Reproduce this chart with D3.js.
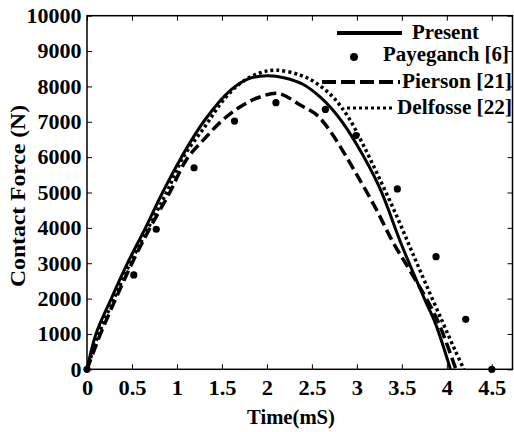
<!DOCTYPE html>
<html><head><meta charset="utf-8">
<script src="https://cdn.jsdelivr.net/npm/d3@7"></script>
<style>body{margin:0;background:#fff}svg{display:block}</style>
</head><body><svg id="c" width="514" height="432"></svg>
<script>
const xTicks=[0,0.5,1,1.5,2,2.5,3,3.5,4,4.5];
const xTickLabels=["0","0.5","1","1.5","2","2.5","3","3.5","4","4.5"];
const yTicks=[0,1000,2000,3000,4000,5000,6000,7000,8000,9000,10000];
const presentT=[0,0.1,0.27,0.45,0.65,0.84,1.05,1.31,1.6,1.8,2.0,2.2,2.4,2.6,2.8,3.0,3.25,3.5,3.75,3.88,4.04];
const presentF=[0,1000,2000,3000,4000,5000,6000,7050,7900,8220,8300,8240,8060,7680,7120,6350,5150,3500,2000,1250,0];
const piersonT=[0,0.15,0.32,0.5,0.7,0.92,1.11,1.31,1.5,1.7,1.9,2.13,2.37,2.55,2.7,2.85,3.0,3.2,3.4,3.6,3.885,4.1];
const piersonF=[0,1000,2000,3000,4000,5000,5950,6530,7030,7420,7680,7800,7475,7200,6750,6150,5500,4600,3600,2750,1450,0];
const delfosseT=[0,0.13,0.3,0.48,0.68,0.885,1.07,1.31,1.5,1.7,1.92,2.1,2.37,2.55,2.73,2.9,3.07,3.25,3.44,3.6,3.76,3.95,4.09,4.19];
const delfosseF=[0,1000,2000,3000,4000,5000,6000,6860,7560,8080,8380,8460,8320,8090,7710,7150,6350,5400,4350,3400,2450,1350,546,0];
const payT=[0,0.52,0.77,1.19,1.64,2.1,2.65,2.99,3.45,3.88,4.21,4.5];
const payF=[0,2670,3960,5700,7020,7540,7350,6610,5100,3185,1414,0];
const legendLabels=["Present","Payeganch [6]","Pierson [21]","Delfosse [22]"];

const FONT='"Liberation Serif","Times New Roman",serif';
const svg=d3.select("#c");
const L=87,R=512.5,T=15.7,B=369.3;
const x=d3.scaleLinear().domain([0,4.73]).range([L,R]);
const y=d3.scaleLinear().domain([0,10000]).range([B,T]);

svg.append("rect").attr("x",L).attr("y",T).attr("width",R-L).attr("height",B-T)
  .attr("fill","none").attr("stroke","#000").attr("stroke-width",1.5);

const ax=svg.append("g").attr("transform",`translate(0,${B})`)
  .call(d3.axisBottom(x).tickValues(xTicks).tickFormat((d,i)=>xTickLabels[i]).tickSize(-5).tickSizeOuter(0));
ax.select(".domain").remove();
ax.attr("font-family",FONT).attr("font-size",20).attr("font-weight","bold");
ax.selectAll("text").attr("y",26).attr("dy",0).attr("transform","scale(1.12,1)");

const ay=svg.append("g").attr("transform",`translate(${L},0)`)
  .call(d3.axisLeft(y).tickValues(yTicks).tickFormat(d3.format("d")).tickSize(-5).tickSizeOuter(0));
ay.select(".domain").remove();
ay.attr("font-family",FONT).attr("font-size",20).attr("font-weight","bold");
ay.selectAll("text").attr("x",-5).attr("dy","0.34em").attr("transform","scale(1.1,1)");

const at=svg.append("g").attr("transform",`translate(0,${T})`)
  .call(d3.axisTop(x).tickValues(xTicks).tickFormat("").tickSize(-5).tickSizeOuter(0));
at.select(".domain").remove();
const ar=svg.append("g").attr("transform",`translate(${R},0)`)
  .call(d3.axisRight(y).tickValues(yTicks).tickFormat("").tickSize(-5).tickSizeOuter(0));
ar.select(".domain").remove();

const line=d3.line().x(d=>x(d[0])).y(d=>y(d[1])).curve(d3.curveCatmullRom.alpha(0.5));
const zip=(a,b)=>a.map((v,i)=>[v,b[i]]);

svg.append("path").datum(zip(delfosseT,delfosseF)).attr("d",line).attr("fill","none")
  .attr("stroke","#000").attr("stroke-width",3.5).attr("stroke-dasharray","3,3");
svg.append("path").datum(zip(piersonT,piersonF)).attr("d",line).attr("fill","none")
  .attr("stroke","#000").attr("stroke-width",3.5).attr("stroke-dasharray","11,5");
svg.append("path").datum(zip(presentT,presentF)).attr("d",line).attr("fill","none")
  .attr("stroke","#000").attr("stroke-width",3);

svg.append("g").selectAll("circle").data(zip(payT,payF)).join("circle")
  .attr("cx",d=>x(d[0])).attr("cy",d=>y(d[1])).attr("r",3.6).attr("fill","#000");

const tt=svg.append("g").attr("font-family",FONT).attr("font-weight","bold").attr("font-size",20);
tt.append("text").attr("x",291).attr("y",424).attr("text-anchor","middle")
  .attr("textLength",88).attr("lengthAdjust","spacingAndGlyphs").text("Time(mS)");
tt.append("text").attr("transform","translate(25,196) rotate(-90)").attr("text-anchor","middle")
  .attr("textLength",182).attr("lengthAdjust","spacingAndGlyphs").text("Contact Force (N)");

const lg=svg.append("g").attr("font-family",FONT).attr("font-weight","bold").attr("font-size",20);
lg.append("line").attr("x1",337).attr("x2",402).attr("y1",33).attr("y2",33).attr("stroke","#000").attr("stroke-width",4);
lg.append("circle").attr("cx",354).attr("cy",57).attr("r",4).attr("fill","#000");
lg.append("line").attr("x1",322).attr("x2",400).attr("y1",82).attr("y2",82).attr("stroke","#000").attr("stroke-width",4).attr("stroke-dasharray","14,5");
lg.append("line").attr("x1",347).attr("x2",395).attr("y1",108).attr("y2",108).attr("stroke","#000").attr("stroke-width",3).attr("stroke-dasharray","3,3");
const lx=[412,383,402,397], lw=[67,126,110,115], ly=[39,61,88,114];
legendLabels.forEach((s,i)=>{
  lg.append("text").attr("x",lx[i]).attr("y",ly[i])
    .attr("textLength",lw[i]).attr("lengthAdjust","spacingAndGlyphs").text(s);
});
</script></body></html>
